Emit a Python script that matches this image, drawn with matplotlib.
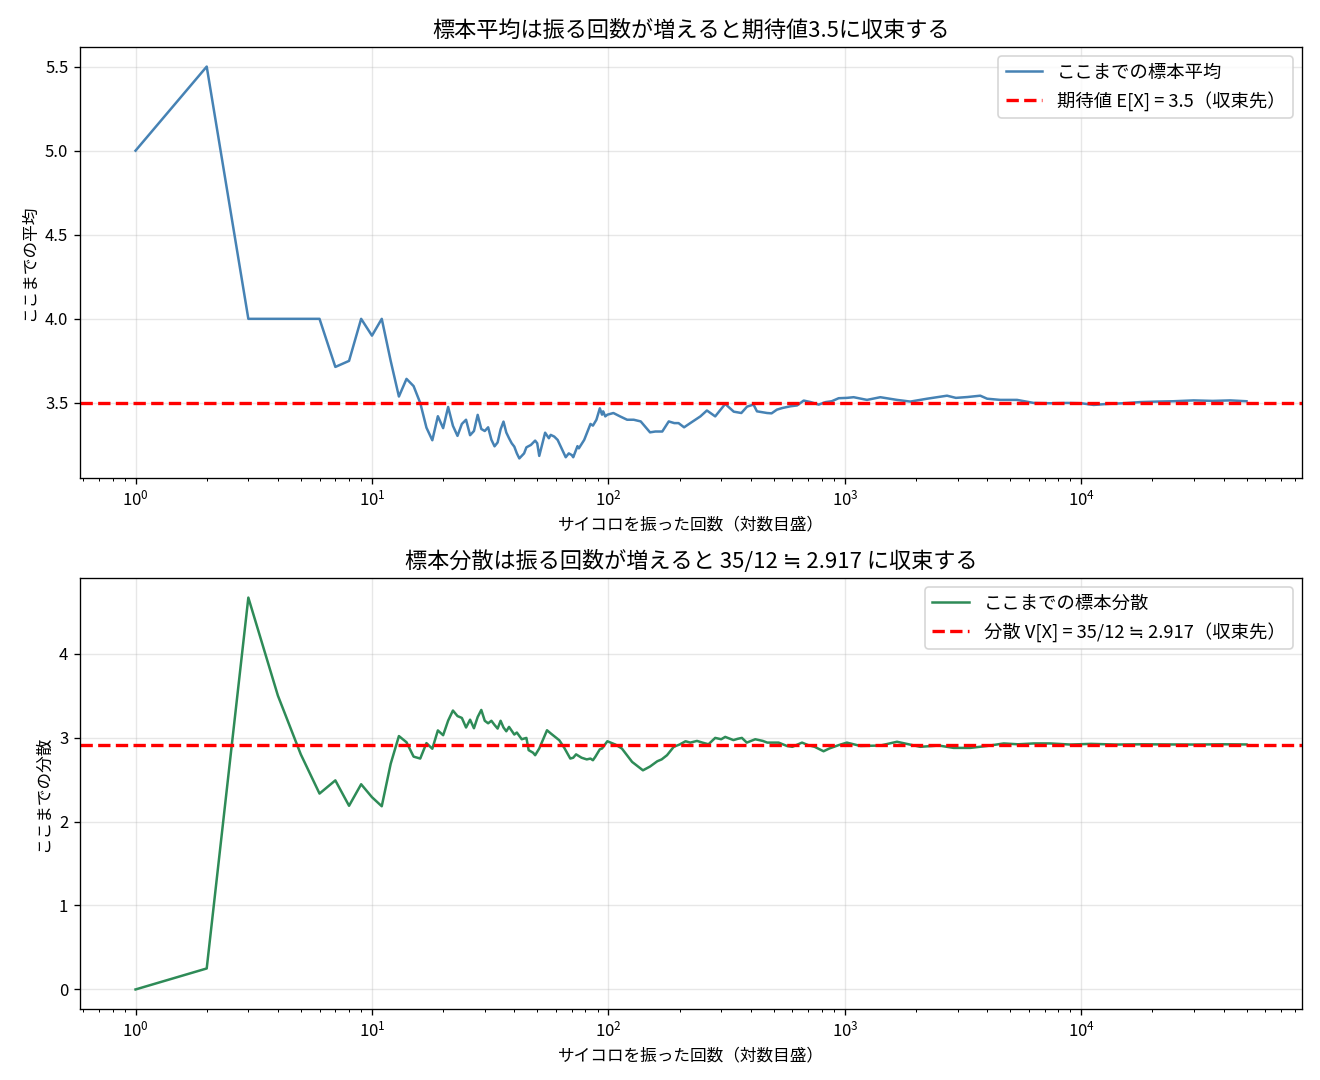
import matplotlib
matplotlib.use("Agg")
import matplotlib.pyplot as plt

plt.rcParams['font.family'] = ['Noto Sans CJK JP', 'DejaVu Sans']
plt.rcParams['axes.unicode_minus'] = False

# ---- data ----
n_mean = [1, 2, 3, 4, 5, 6, 7, 8, 9, 10, 11, 12, 13, 14, 15, 16, 17, 18, 19, 20,
          21, 22, 23, 24, 25, 26, 27, 28, 29, 30, 31, 32, 33, 34, 35, 36, 37, 38, 39, 40,
          41, 42, 44, 45, 47, 49, 50, 51, 54, 56, 57, 59, 61, 66, 68, 70, 71, 74, 75, 79,
          84, 86, 89, 92, 94, 95, 97, 99, 105, 112, 120, 128, 137, 150, 158, 169, 180, 190,
          198, 209, 222, 245, 261, 283, 312, 339, 365, 386, 411, 425, 469, 490, 516, 545,
          589, 628, 670, 717, 775, 830, 880, 942, 1021, 1090, 1241, 1413, 1662, 1893, 2227,
          2706, 2950, 3300, 3741, 4000, 4546, 5350, 6290, 7400, 8710, 10000, 11290, 12860,
          15130, 17750, 20880, 24560, 29840, 36000, 42650, 50000]
sample_mean = [5.0, 5.5, 4.0, 4.0, 4.0, 4.0, 3.714, 3.75, 4.0, 3.9, 4.0, 3.75, 3.538, 3.643,
               3.6, 3.5, 3.353, 3.278, 3.421, 3.35, 3.476, 3.364, 3.304, 3.375, 3.4, 3.308,
               3.333, 3.429, 3.345, 3.333, 3.355, 3.281, 3.242, 3.265, 3.343, 3.389, 3.324,
               3.29, 3.26, 3.24, 3.20, 3.17, 3.20, 3.236, 3.25, 3.276, 3.26, 3.185, 3.323,
               3.29, 3.31, 3.30, 3.28, 3.177, 3.20, 3.19, 3.177, 3.243, 3.23, 3.28, 3.375,
               3.365, 3.40, 3.468, 3.43, 3.45, 3.42, 3.43, 3.44, 3.42, 3.40, 3.40, 3.39,
               3.325, 3.33, 3.33, 3.39, 3.38, 3.38, 3.355, 3.38, 3.42, 3.455, 3.42, 3.494,
               3.448, 3.44, 3.478, 3.49, 3.45, 3.44, 3.438, 3.46, 3.47, 3.48, 3.485, 3.514,
               3.505, 3.49, 3.505, 3.51, 3.528, 3.53, 3.534, 3.518, 3.534, 3.518, 3.508,
               3.525, 3.543, 3.53, 3.535, 3.543, 3.525, 3.518, 3.518, 3.50, 3.498, 3.50,
               3.498, 3.488, 3.494, 3.498, 3.505, 3.508, 3.51, 3.515, 3.512, 3.515, 3.51]

n_var = [1, 2, 3, 4, 5, 6, 7, 8, 9, 10, 11, 12, 13, 14, 15, 16, 17, 18, 19, 20,
         21, 22, 23, 24, 25, 26, 27, 28, 29, 30, 31, 32, 33, 34, 35, 36, 37, 38, 40, 41,
         43, 45, 46, 48, 49, 51, 55, 57, 62, 65, 69, 71, 73, 77, 81, 84, 86, 88, 92, 94,
         99, 107, 114, 126, 140, 150, 161, 168, 177, 189, 200, 212, 222, 237, 250, 265,
         283, 300, 312, 338, 352, 367, 385, 418, 450, 470, 525, 569, 600, 659, 700, 745,
         813, 860, 942, 1020, 1165, 1413, 1662, 2085, 2500, 2885, 3394, 4000, 4700, 5400,
         6290, 7400, 9000, 11000, 14000, 18000, 24000, 30000, 40000, 50000]
sample_var = [0.0, 0.25, 4.667, 3.5, 2.8, 2.333, 2.49, 2.1875, 2.444, 2.29, 2.182, 2.6875,
              3.018, 2.944, 2.773, 2.75, 2.934, 2.867, 3.085, 3.028, 3.202, 3.322, 3.256,
              3.234, 3.12, 3.213, 3.111, 3.245, 3.329, 3.20, 3.17, 3.20, 3.15, 3.107, 3.2,
              3.12, 3.075, 3.127, 3.036, 3.06, 2.98, 2.996, 2.85, 2.82, 2.79, 2.87, 3.087,
              3.05, 2.968, 2.88, 2.75, 2.76, 2.8, 2.76, 2.74, 2.75, 2.73, 2.77, 2.86, 2.87,
              2.956, 2.917, 2.87, 2.71, 2.61, 2.655, 2.718, 2.74, 2.79, 2.89, 2.917, 2.956,
              2.94, 2.96, 2.94, 2.92, 2.996, 2.98, 3.008, 2.97, 2.985, 2.996, 2.94, 2.98,
              2.96, 2.94, 2.94, 2.90, 2.89, 2.94, 2.91, 2.89, 2.837, 2.87, 2.91, 2.94, 2.90,
              2.905, 2.95, 2.89, 2.905, 2.877, 2.877, 2.90, 2.93, 2.92, 2.93, 2.93, 2.917,
              2.925, 2.917, 2.92, 2.918, 2.917, 2.92, 2.918]

expected_mean = 3.5
expected_var = 35 / 12

titles = ["標本平均は振る回数が増えると期待値3.5に収束する",
          "標本分散は振る回数が増えると 35/12 ≒ 2.917 に収束する"]
ylabels = ["ここまでの平均", "ここまでの分散"]
xlabel = "サイコロを振った回数（対数目盛）"
line_labels = ["ここまでの標本平均", "ここまでの標本分散"]
ref_labels = ["期待値 E[X] = 3.5（収束先）", "分散 V[X] = 35/12 ≒ 2.917（収束先）"]

fig, axes = plt.subplots(2, 1, figsize=(11, 9), dpi=120)
fig.subplots_adjust(left=0.0606, right=0.9864, top=0.9565, bottom=0.0657, hspace=0.232)

series = [(n_mean, sample_mean, "steelblue", expected_mean),
          (n_var, sample_var, "seagreen", expected_var)]

for i, ax in enumerate(axes):
    xs, ys, col, ref = series[i]
    ax.plot(xs, ys, color=col, lw=1.5, label=line_labels[i])
    ax.axhline(ref, color="red", ls="--", lw=2, label=ref_labels[i])
    ax.set_xscale("log")
    ax.set_title(titles[i], fontsize=13.3)
    ax.set_xlabel(xlabel, fontsize=10)
    ax.set_ylabel(ylabels[i], fontsize=10)
    ax.grid(True, alpha=0.3)
    ax.legend(loc="upper right", fontsize=11)

fig.savefig("out.png", dpi=120)
